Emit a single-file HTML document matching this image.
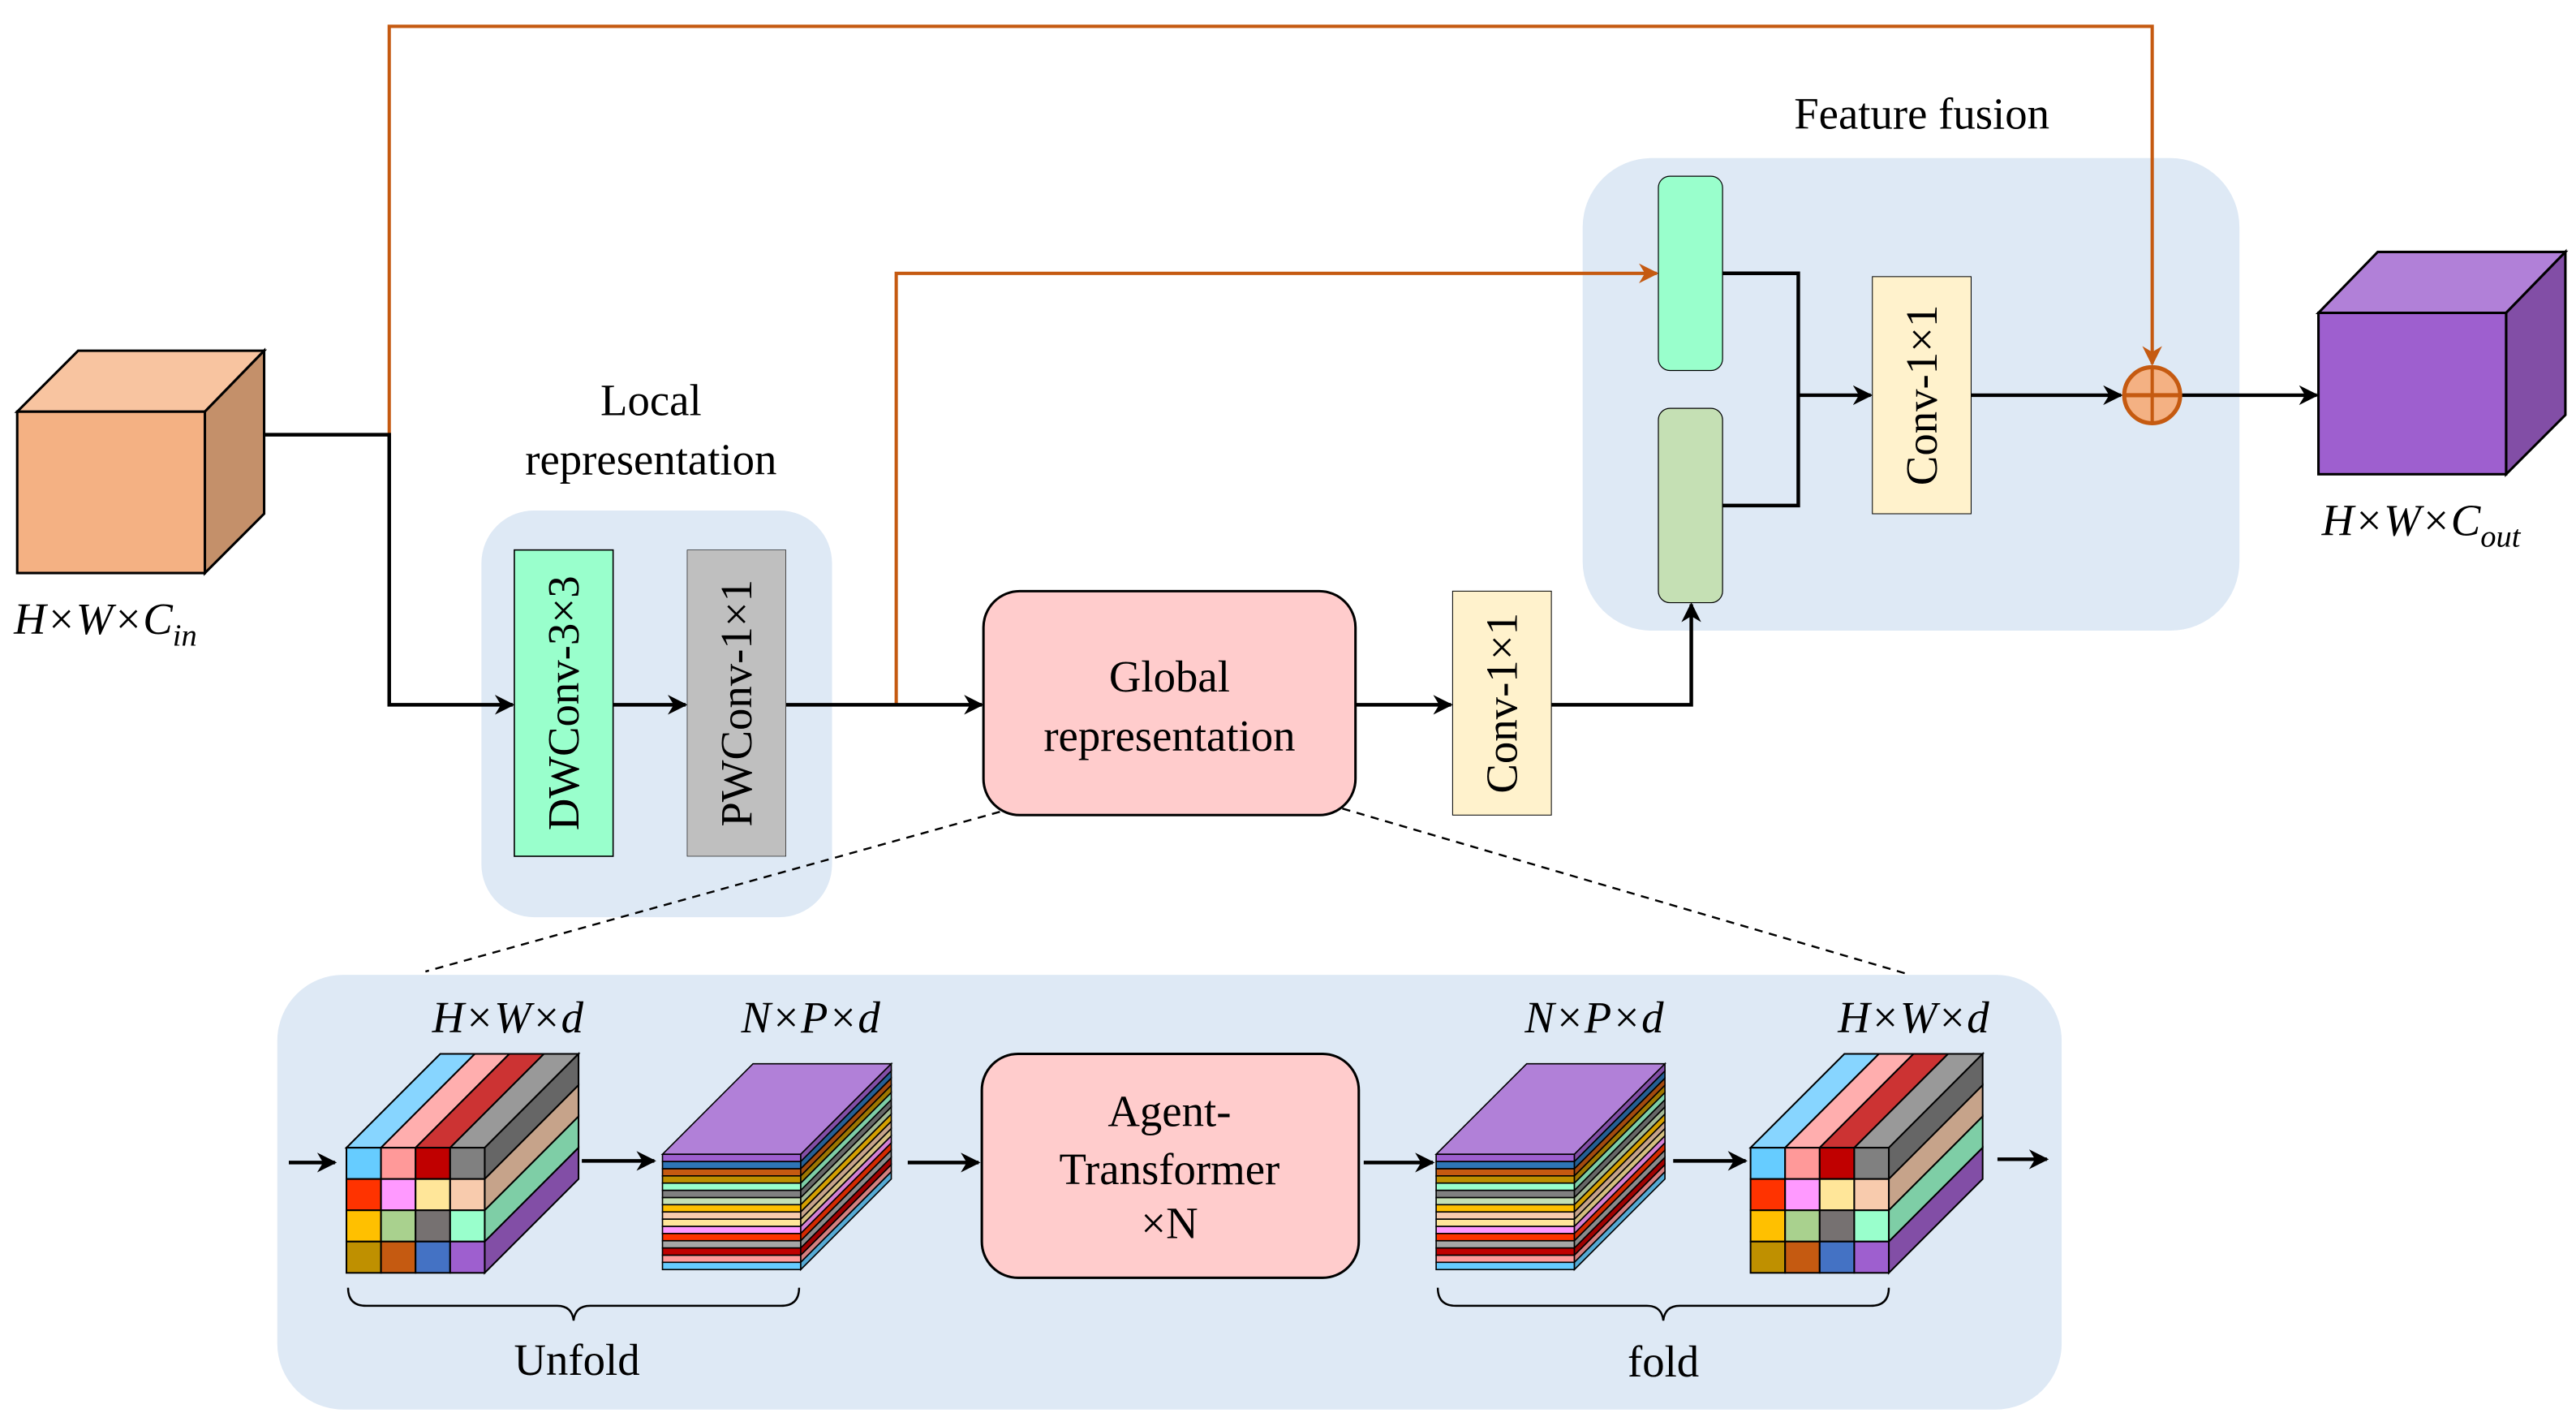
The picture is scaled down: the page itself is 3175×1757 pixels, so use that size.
<!DOCTYPE html>
<html><head><meta charset="utf-8">
<style>
html,body{margin:0;padding:0;background:#fff;}
svg{display:block;font-family:"Liberation Serif","Times New Roman",Times,serif;}
svg text{font-family:"Liberation Serif","Times New Roman",Times,serif;fill:#000;}
.it{font-style:italic;}
</style></head>
<body>
<svg width="3175" height="1757" viewBox="0 0 1564 866" xmlns="http://www.w3.org/2000/svg" font-family="Liberation Serif, Times New Roman, serif">
<defs>
<marker id="ao" viewBox="0 0 10 10" refX="9" refY="5" markerWidth="12" markerHeight="12" orient="auto" markerUnits="userSpaceOnUse">
<path d="M0,0 L10,5 L0,10 L3,5 Z" fill="#C55A11"/>
</marker>
<marker id="ak" viewBox="0 0 10 10" refX="9" refY="5" markerWidth="12" markerHeight="12" orient="auto" markerUnits="userSpaceOnUse">
<path d="M0,0 L10,5 L0,10 L3,5 Z" fill="#000"/>
</marker>
<g id="grid" stroke="#000" stroke-width="1">
<polygon points="0,0 21,0 78,-57 57,-57" fill="#87D5FF"/>
<polygon points="21,0 42,0 99,-57 78,-57" fill="#FFAEAE"/>
<polygon points="42,0 63,0 120,-57 99,-57" fill="#CC3333"/>
<polygon points="63,0 84,0 141,-57 120,-57" fill="#999999"/>
<polygon points="84,0 84,19 141,-38 141,-57" fill="#666666"/>
<polygon points="84,19 84,38 141,-19 141,-38" fill="#C6A38A"/>
<polygon points="84,38 84,57 141,0 141,-19" fill="#7ECEA6"/>
<polygon points="84,57 84,76 141,19 141,0" fill="#824EA6"/>
<rect x="0" y="0" width="21" height="19" fill="#66CCFF"/><rect x="21" y="0" width="21" height="19" fill="#FF9999"/><rect x="42" y="0" width="21" height="19" fill="#C00000"/><rect x="63" y="0" width="21" height="19" fill="#808080"/>
<rect x="0" y="19" width="21" height="19" fill="#FF3300"/><rect x="21" y="19" width="21" height="19" fill="#FF99FF"/><rect x="42" y="19" width="21" height="19" fill="#FFE699"/><rect x="63" y="19" width="21" height="19" fill="#F8CBAD"/>
<rect x="0" y="38" width="21" height="19" fill="#FFC000"/><rect x="21" y="38" width="21" height="19" fill="#A9D18E"/><rect x="42" y="38" width="21" height="19" fill="#767171"/><rect x="63" y="38" width="21" height="19" fill="#99FFCC"/>
<rect x="0" y="57" width="21" height="19" fill="#BF9000"/><rect x="21" y="57" width="21" height="19" fill="#C55A11"/><rect x="42" y="57" width="21" height="19" fill="#4472C4"/><rect x="63" y="57" width="21" height="19" fill="#9E5FCF"/>
</g>
<g id="stripes" stroke="#000" stroke-width="0.8">
<polygon points="0,0 84,0 139,-55 55,-55" fill="#B180D8"/>
<rect x="0" y="0" width="84" height="4.4" fill="#9E5FCF"/><polygon points="84,0 84,4.4 139,-50.6 139,-55" fill="#824EA6"/>
<rect x="0" y="4.4" width="84" height="4.4" fill="#2E75B6"/><polygon points="84,4.4 84,8.8 139,-46.2 139,-50.6" fill="#255F94"/>
<rect x="0" y="8.8" width="84" height="4.4" fill="#C55A11"/><polygon points="84,8.8 84,13.1 139,-41.9 139,-46.2" fill="#A34A0E"/>
<rect x="0" y="13.1" width="84" height="4.4" fill="#BF9000"/><polygon points="84,13.1 84,17.5 139,-37.5 139,-41.9" fill="#9E7700"/>
<rect x="0" y="17.5" width="84" height="4.4" fill="#99FFCC"/><polygon points="84,17.5 84,21.9 139,-33.1 139,-37.5" fill="#7ECEA6"/>
<rect x="0" y="21.9" width="84" height="4.4" fill="#808080"/><polygon points="84,21.9 84,26.3 139,-28.7 139,-33.1" fill="#666666"/>
<rect x="0" y="26.3" width="84" height="4.4" fill="#C5E0B4"/><polygon points="84,26.3 84,30.6 139,-24.4 139,-28.7" fill="#A3B996"/>
<rect x="0" y="30.6" width="84" height="4.4" fill="#FFC000"/><polygon points="84,30.6 84,35 139,-20 139,-24.4" fill="#D49F00"/>
<rect x="0" y="35" width="84" height="4.4" fill="#F8CBAD"/><polygon points="84,35 84,39.4 139,-15.6 139,-20" fill="#C6A38A"/>
<rect x="0" y="39.4" width="84" height="4.4" fill="#FFE699"/><polygon points="84,39.4 84,43.8 139,-11.2 139,-15.6" fill="#D4BF7F"/>
<rect x="0" y="43.8" width="84" height="4.4" fill="#FF99FF"/><polygon points="84,43.8 84,48.1 139,-6.9 139,-11.2" fill="#D47FD4"/>
<rect x="0" y="48.1" width="84" height="4.4" fill="#FF3300"/><polygon points="84,48.1 84,52.5 139,-2.5 139,-6.9" fill="#D42A00"/>
<rect x="0" y="52.5" width="84" height="4.4" fill="#A6A6A6"/><polygon points="84,52.5 84,56.9 139,1.9 139,-2.5" fill="#8A8A8A"/>
<rect x="0" y="56.9" width="84" height="4.4" fill="#C00000"/><polygon points="84,56.9 84,61.3 139,6.3 139,1.9" fill="#A00000"/>
<rect x="0" y="61.3" width="84" height="4.4" fill="#FF9999"/><polygon points="84,61.3 84,65.6 139,10.6 139,6.3" fill="#D47F7F"/>
<rect x="0" y="65.6" width="84" height="4.4" fill="#66CCFF"/><polygon points="84,65.6 84,70 139,15 139,10.6" fill="#55AAD4"/>
</g>
</defs>

<rect x="292" y="310" width="213" height="247" rx="32" fill="#DEE9F5"/>
<rect x="961" y="96" width="399" height="287" rx="42" fill="#DEE9F5"/>
<rect x="168" y="592" width="1084" height="264" rx="40" fill="#DEE9F5"/>

<polyline points="236,264 236,16 1307,16 1307,221" fill="none" stroke="#C55A11" stroke-width="2" marker-end="url(#ao)"/>
<polyline points="544,428 544,166 1006,166" fill="none" stroke="#C55A11" stroke-width="2" marker-end="url(#ao)"/>

<g fill="none" stroke="#000" stroke-width="2.2">
<polyline points="160,264 236,264 236,428 311,428" marker-end="url(#ak)"/>
<line x1="372" y1="428" x2="416" y2="428" marker-end="url(#ak)"/>
<line x1="477" y1="428" x2="596" y2="428" marker-end="url(#ak)"/>
<line x1="823" y1="428" x2="881" y2="428" marker-end="url(#ak)"/>
<polyline points="942,428 1027,428 1027,367" marker-end="url(#ak)"/>
<polyline points="1046,166 1092,166 1092,307 1046,307"/>
<line x1="1092" y1="240" x2="1136" y2="240" marker-end="url(#ak)"/>
<line x1="1197" y1="240" x2="1288" y2="240" marker-end="url(#ak)"/>
<line x1="1325" y1="240" x2="1407" y2="240" marker-end="url(#ak)"/>
<line x1="175" y1="706" x2="203" y2="706" marker-end="url(#ak)"/>
<line x1="353" y1="705" x2="397" y2="705" marker-end="url(#ak)"/>
<line x1="551" y1="706" x2="594" y2="706" marker-end="url(#ak)"/>
<line x1="828" y1="706" x2="870" y2="706" marker-end="url(#ak)"/>
<line x1="1016" y1="705" x2="1060" y2="705" marker-end="url(#ak)"/>
<line x1="1213" y1="704" x2="1243" y2="704" marker-end="url(#ak)"/>
</g>

<line x1="607" y1="493" x2="258" y2="590" stroke="#000" stroke-width="1.2" stroke-dasharray="5,4"/>
<line x1="815" y1="491" x2="1160" y2="592" stroke="#000" stroke-width="1.2" stroke-dasharray="5,4"/>

<g stroke="#000" stroke-width="1.5">
<polygon points="10,250 124,250 160,213 47,213" fill="#F8C4A0"/>
<polygon points="124,250 160,213 160,312 124,348" fill="#C4906A"/>
<rect x="10" y="250" width="114" height="98" fill="#F4B183"/>
</g>
<text x="8" y="385" font-size="27" class="it">H×W×C<tspan font-size="19" dy="7">in</tspan></text>

<g stroke="#000" stroke-width="1.5">
<polygon points="1408,190 1522,190 1558,153 1444,153" fill="#B180D8"/>
<polygon points="1522,190 1558,153 1558,252 1522,288" fill="#824EA6"/>
<rect x="1408" y="190" width="114" height="98" fill="#9E5FCF"/>
</g>
<text x="1410" y="325" font-size="27" class="it">H×W×C<tspan font-size="19" dy="7">out</tspan></text>

<text x="395" y="252" font-size="27" text-anchor="middle">Local</text>
<text x="395" y="288" font-size="27" text-anchor="middle">representation</text>
<rect x="312" y="334" width="60" height="186" fill="#99FFCC" stroke="#000" stroke-width="0.8"/>
<text transform="translate(351,427) rotate(-90)" font-size="27" text-anchor="middle">DWConv-3×3</text>
<rect x="417" y="334" width="60" height="186" fill="#BFBFBF" stroke="#000" stroke-width="0.3"/>
<text transform="translate(456,427) rotate(-90)" font-size="27" text-anchor="middle">PWConv-1×1</text>

<rect x="597" y="359" width="226" height="136" rx="22" fill="#FFCCCC" stroke="#000" stroke-width="1.5"/>
<text x="710" y="420" font-size="27" text-anchor="middle">Global</text>
<text x="710" y="456" font-size="27" text-anchor="middle">representation</text>

<rect x="882" y="359" width="60" height="136" fill="#FFF2CC" stroke="#000" stroke-width="0.5"/>
<text transform="translate(921,427) rotate(-90)" font-size="27" text-anchor="middle">Conv-1×1</text>

<text x="1167" y="78" font-size="27" text-anchor="middle">Feature fusion</text>
<rect x="1007" y="107" width="39" height="118" rx="7" fill="#99FFCC" stroke="#000" stroke-width="0.6"/>
<rect x="1007" y="248" width="39" height="118" rx="7" fill="#C5E0B4" stroke="#000" stroke-width="0.6"/>
<rect x="1137" y="168" width="60" height="144" fill="#FFF2CC" stroke="#000" stroke-width="0.5"/>
<text transform="translate(1176,240) rotate(-90)" font-size="27" text-anchor="middle">Conv-1×1</text>
<circle cx="1307" cy="240" r="17" fill="#F4B183" stroke="#C55A11" stroke-width="2.5"/>
<line x1="1290" y1="240" x2="1324" y2="240" stroke="#C55A11" stroke-width="2.5"/>
<line x1="1307" y1="223" x2="1307" y2="257" stroke="#C55A11" stroke-width="2"/>

<use href="#grid" transform="translate(210,697)"/>
<use href="#stripes" transform="translate(402,701)"/>
<use href="#stripes" transform="translate(872,701)"/>
<use href="#grid" transform="translate(1063,697)"/>

<text x="308" y="627" font-size="27" class="it" text-anchor="middle">H×W×d</text>
<text x="492" y="627" font-size="27" class="it" text-anchor="middle">N×P×d</text>
<text x="968" y="627" font-size="27" class="it" text-anchor="middle">N×P×d</text>
<text x="1162" y="627" font-size="27" class="it" text-anchor="middle">H×W×d</text>

<rect x="596" y="640" width="229" height="136" rx="22" fill="#FFCCCC" stroke="#000" stroke-width="1.5"/>
<text x="710" y="684" font-size="27" text-anchor="middle">Agent-</text>
<text x="710" y="719" font-size="27" text-anchor="middle">Transformer</text>
<text x="710" y="752" font-size="27" text-anchor="middle">×N</text>

<path d="M211,782 Q211,793 222,793 L338,793 Q347,793 348,802 Q349,793 358,793 L474,793 Q485,793 485,782" fill="none" stroke="#000" stroke-width="1.2"/>
<text x="350" y="835" font-size="27" text-anchor="middle">Unfold</text>
<path d="M873,782 Q873,793 884,793 L1000,793 Q1009,793 1010,802 Q1011,793 1020,793 L1136,793 Q1147,793 1147,782" fill="none" stroke="#000" stroke-width="1.2"/>
<text x="1010" y="836" font-size="27" text-anchor="middle">fold</text>
</svg>
</body></html>
